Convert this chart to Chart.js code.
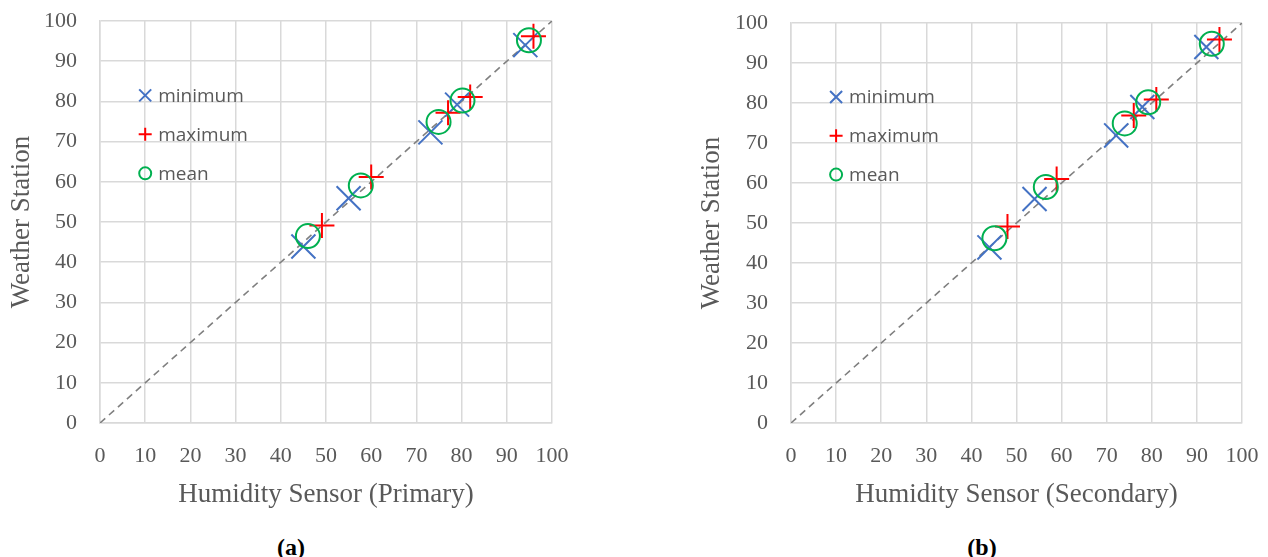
<!DOCTYPE html>
<html>
<head>
<meta charset="utf-8">
<script src="https://cdn.jsdelivr.net/npm/chart.js@4.4.1/dist/chart.umd.min.js"></script>
<style>
  body { margin: 0; background: #fff; width: 1268px; height: 557px; position: relative; overflow: hidden; }
  canvas { position: absolute; top: 0; }
  .cap { position: absolute; top: 532px; width: 80px; text-align: center; font: bold 24px "Liberation Serif", serif; color: #000; line-height: 30px; }
</style>
</head>
<body>
<canvas id="chartA" width="600" height="520" style="left:0px"></canvas>
<canvas id="chartB" width="578" height="520" style="left:690px"></canvas>
<div class="cap" style="left:251px">(a)</div>
<div class="cap" style="left:942px">(b)</div>
<script>
// axis range (both panels)
const axisMin = 0, axisMax = 100, axisStep = 10;
const seriesNames = ["minimum", "maximum", "mean"];

// (a) primary sensor vs weather station
const primMinX = [45.0, 55.0, 73.1, 79.0, 94.1];
const primMinY = [43.9, 55.9, 72.3, 79.2, 94.0];
const primMaxX = [49.1, 60.0, 77.0, 81.9, 95.9];
const primMaxY = [49.1, 61.2, 77.2, 81.1, 96.2];
const primMeanX = [46.0, 57.7, 74.9, 80.2, 94.9];
const primMeanY = [46.5, 59.1, 74.9, 80.2, 95.2];

// (b) secondary sensor vs weather station
const secMinX = [44.0, 54.0, 72.1, 77.9, 92.1];
const secMinY = [43.9, 56.0, 71.9, 79.0, 94.0];
const secMaxX = [48.0, 58.9, 76.0, 81.0, 95.0];
const secMaxY = [49.1, 61.0, 76.9, 80.9, 95.9];
const secMeanX = [45.1, 56.5, 74.0, 79.2, 93.3];
const secMeanY = [46.2, 59.0, 74.9, 80.2, 94.8];

const BLUE = "#4472C4", RED = "#FF0000", GREEN = "#00B050", GRID = "#d9d9d9", TXT = "#595959";

function pts(xs, ys) {
  return xs.map((x, i) => ({x: x, y: ys[i]}));
}

// legend drawn inside the plot, like the office chart
const insideLegend = {
  id: "insideLegend",
  afterDatasetsDraw(chart) {
    const ctx = chart.ctx, sx = chart.scales.x, sy = chart.scales.y;
    const styles = [
      {style: "crossRot", r: 8.5, color: BLUE},
      {style: "cross", r: 6.5, color: RED},
      {style: "circle", r: 6, color: GREEN}
    ];
    const x0 = sx.getPixelForValue(10);
    ctx.save();
    ctx.font = '19px "Open Sans", sans-serif';
    ctx.textBaseline = "middle";
    ctx.textAlign = "left";
    seriesNames.forEach((name, i) => {
      const y = sy.getPixelForValue(81.5 - i * 9.7);
      ctx.strokeStyle = styles[i].color;
      ctx.fillStyle = "rgba(0,0,0,0)";
      ctx.lineWidth = 2;
      Chart.helpers.drawPoint(ctx, {pointStyle: styles[i].style, radius: styles[i].r, rotation: 0, borderWidth: 2}, x0, y);
      ctx.fillStyle = TXT;
      ctx.fillText(name, x0 + 13, y + 1);
    });
    ctx.restore();
  }
};

function makeChart(id, xTitle, minP, maxP, meanP, yWidth, padTop, padRight) {
  return new Chart(document.getElementById(id), {
    type: "scatter",
    data: {
      datasets: [
        {
          label: seriesNames[2], data: meanP, order: 0,
          pointStyle: "circle", pointRadius: 12, borderColor: GREEN, backgroundColor: "rgba(0,0,0,0)", borderWidth: 2
        },
        {
          label: seriesNames[1], data: maxP, order: 1,
          pointStyle: "cross", pointRadius: 12.5, borderColor: RED, backgroundColor: RED, borderWidth: 2
        },
        {
          label: seriesNames[0], data: minP, order: 2,
          pointStyle: "crossRot", pointRadius: 17, borderColor: BLUE, backgroundColor: BLUE, borderWidth: 2
        },
        {
          label: "1:1", type: "line", order: 3,
          data: [{x: axisMin, y: axisMin}, {x: axisMax, y: axisMax}],
          borderColor: "#7f7f7f", borderWidth: 1.6, borderDash: [7, 5], pointRadius: 0, fill: false
        }
      ]
    },
    options: {
      responsive: false,
      animation: false,
      events: [],
      layout: { padding: { top: padTop, right: padRight, left: 0, bottom: 0 } },
      plugins: { legend: { display: false }, tooltip: { enabled: false } },
      scales: {
        x: {
          type: "linear", min: axisMin, max: axisMax,
          ticks: { stepSize: axisStep, color: TXT, padding: 20, font: { family: "Liberation Serif", size: 22 } },
          grid: { color: GRID, lineWidth: 1.5, drawTicks: false },
          border: { color: GRID, width: 1.5 },
          title: { display: true, text: xTitle, color: TXT, padding: { top: 0, bottom: 9 }, font: { family: "Liberation Serif", size: 27 } },
          afterFit(scale) { scale.height = 97; scale.paddingLeft = 0; scale.paddingRight = 0; }
        },
        y: {
          type: "linear", min: axisMin, max: axisMax,
          ticks: { stepSize: axisStep, color: TXT, padding: 23, font: { family: "Liberation Serif", size: 22 } },
          grid: { color: GRID, lineWidth: 1.5, drawTicks: false },
          border: { color: GRID, width: 1.5 },
          title: { display: true, text: "Weather Station", color: TXT, padding: { top: 6, bottom: 0 }, font: { family: "Liberation Serif", size: 27 } },
          afterFit(scale) { scale.width = yWidth; scale.paddingTop = 0; scale.paddingBottom = 0; }
        }
      }
    },
    plugins: [insideLegend]
  });
}

makeChart("chartA", "Humidity Sensor (Primary)", pts(primMinX, primMinY), pts(primMaxX, primMaxY), pts(primMeanX, primMeanY), 100, 21, 48);
makeChart("chartB", "Humidity Sensor (Secondary)", pts(secMinX, secMinY), pts(secMaxX, secMaxY), pts(secMeanX, secMeanY), 101, 23, 26);
</script>
</body>
</html>
